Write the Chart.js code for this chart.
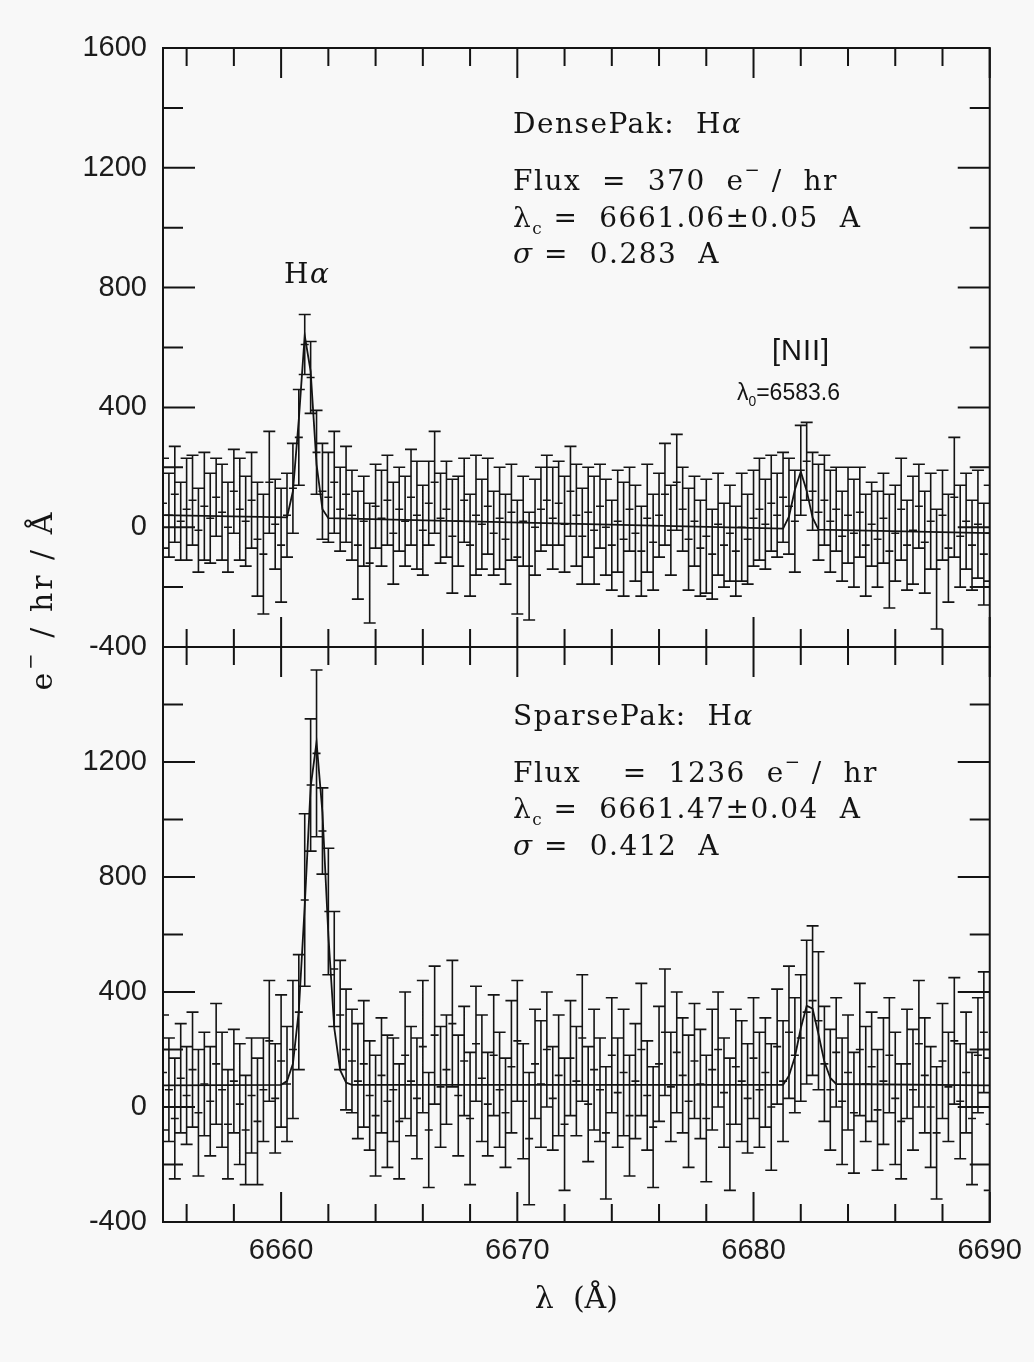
<!DOCTYPE html>
<html>
<head>
<meta charset="utf-8">
<title>DensePak / SparsePak H-alpha spectra</title>
<script src="https://cdn.jsdelivr.net/npm/chart.js@4.4.1/dist/chart.umd.min.js"></script>
<style>
  html, body { margin: 0; padding: 0; background: #f8f8f8; }
  #spec { display: block; }
</style>
</head>
<body>
<canvas id="spec" width="1034" height="1362"></canvas>
<script>
// wavelength grid (Angstrom), one entry per spectral pixel
const wavelength = [
  6655, 6655.25, 6655.5, 6655.75, 6656, 6656.25, 6656.5, 6656.75, 6657, 6657.25,
  6657.5, 6657.75, 6658, 6658.25, 6658.5, 6658.75, 6659, 6659.25, 6659.5, 6659.75,
  6660, 6660.25, 6660.5, 6660.75, 6661, 6661.25, 6661.5, 6661.75, 6662, 6662.25,
  6662.5, 6662.75, 6663, 6663.25, 6663.5, 6663.75, 6664, 6664.25, 6664.5, 6664.75,
  6665, 6665.25, 6665.5, 6665.75, 6666, 6666.25, 6666.5, 6666.75, 6667, 6667.25,
  6667.5, 6667.75, 6668, 6668.25, 6668.5, 6668.75, 6669, 6669.25, 6669.5, 6669.75,
  6670, 6670.25, 6670.5, 6670.75, 6671, 6671.25, 6671.5, 6671.75, 6672, 6672.25,
  6672.5, 6672.75, 6673, 6673.25, 6673.5, 6673.75, 6674, 6674.25, 6674.5, 6674.75,
  6675, 6675.25, 6675.5, 6675.75, 6676, 6676.25, 6676.5, 6676.75, 6677, 6677.25,
  6677.5, 6677.75, 6678, 6678.25, 6678.5, 6678.75, 6679, 6679.25, 6679.5, 6679.75,
  6680, 6680.25, 6680.5, 6680.75, 6681, 6681.25, 6681.5, 6681.75, 6682, 6682.25,
  6682.5, 6682.75, 6683, 6683.25, 6683.5, 6683.75, 6684, 6684.25, 6684.5, 6684.75,
  6685, 6685.25, 6685.5, 6685.75, 6686, 6686.25, 6686.5, 6686.75, 6687, 6687.25,
  6687.5, 6687.75, 6688, 6688.25, 6688.5, 6688.75, 6689, 6689.25, 6689.5, 6689.75,
  6690
];

// DensePak flux (e- / hr / A) and 1-sigma errors
const denseFlux = [
  80, 40, 110, 20, 60, 90, -10, 70, 30, 100,
  50, 0, 120, 60, 20, 90, -40, -90, 150, 10,
  -60, 40, 130, 300, 610, 500, 250, 120, 100, 150,
  60, 110, 40, -60, 20, -120, 70, 30, 90, -20,
  60, 20, 100, 40, -10, 80, 150, 30, 60, -30,
  20, 90, -60, 40, 10, 70, -20, 30, -40, 50,
  -100, 20, -130, 0, 60, 90, 30, 80, 10, 120,
  40, -30, 50, -10, 70, 0, -60, 20, -40, 60,
  -20, -80, 30, -50, 40, 110, -10, 150, 60, -40,
  20, -70, -30, -90, 10, -60, -20, -80, 0, -40,
  30, 60, 10, 80, 40, 100, 70, 20, 190, 220,
  120, 50, 90, 20, 60, -30, 40, -20, 50, -60,
  10, -40, 30, -80, -20, 60, -60, -10, 70, -50,
  20, -140, 40, -70, 100, -30, 20, -60, 10, -90,
  -20
];
const denseErr = [
  150, 140, 160, 130, 170, 150, 140, 180, 150, 130,
  160, 150, 140, 170, 150, 160, 190, 200, 170, 150,
  190, 140, 150, 160, 100, 120, 140, 160, 150, 170,
  140, 160, 150, 180, 150, 200, 140, 160, 150, 170,
  140, 150, 160, 180, 150, 140, 170, 150, 160, 190,
  150, 140, 170, 200, 150, 160, 140, 170, 150, 160,
  190, 150, 180, 160, 140, 150, 170, 140, 160, 150,
  170, 160, 150, 180, 140, 160, 150, 170, 190, 140,
  160, 150, 180, 160, 140, 170, 150, 160, 140, 170,
  150, 160, 190, 150, 170, 140, 160, 150, 180, 150,
  160, 170, 150, 160, 140, 150, 160, 170, 150, 130,
  130, 160, 150, 170, 140, 150, 160, 180, 150, 170,
  140, 160, 150, 190, 160, 170, 150, 180, 140, 170,
  160, 200, 150, 180, 200, 170, 160, 150, 180, 170,
  160
];

// SparsePak flux (e- / hr / A) and 1-sigma errors
const sparseFlux = [
  120, 60, -40, 100, 40, 130, -20, 80, 20, 150,
  60, -60, 90, 10, -80, 40, -50, 60, 230, 30,
  160, 80, 200, 330, 720, 1120, 1230, 960, 680, 480,
  320, 200, 160, 90, 150, 40, -30, 110, 20, 60,
  -50, 180, 90, 30, 210, -80, 250, 70, 130, 290,
  40, 160, -40, 220, 100, 10, 180, 60, -20, 140,
  230, 20, -110, 150, 80, 200, 30, 110, -60, 170,
  90, 240, 10, 130, 60, -90, 180, 50, 120, -30,
  90, 200, 40, -70, 150, 260, 70, 190, 110, 20,
  160, 80, -40, 130, 200, 50, -60, 140, 90, 30,
  170, 60, 120, 0, 210, 90, 260, 180, 240, 330,
  370, 300, 150, 60, 190, 20, 120, -20, 200, 80,
  140, -10, 90, 180, 30, -50, 150, 60, 220, 110,
  0, -90, 160, 70, 230, 20, 120, -40, 180, 260,
  -60
];
const sparseErr = [
  200, 180, 210, 190, 170, 200, 220, 180, 190, 210,
  200, 190, 180, 210, 190, 200, 220, 180, 210, 190,
  230, 200, 240, 200, 300, 230, 290, 150, 220, 200,
  190, 210, 180, 200, 220, 190, 210, 200, 230, 180,
  200, 220, 190, 210, 230, 200, 240, 210, 190, 220,
  210, 190, 230, 200, 220, 180, 210, 200, 190, 230,
  210, 200, 230, 190, 220, 200, 180, 210, 230, 200,
  190, 220, 200, 210, 180, 230, 200, 190, 220, 210,
  200, 230, 190, 210, 200, 220, 190, 210, 200, 230,
  200, 190, 220, 210, 200, 190, 230, 200, 210, 190,
  210, 200, 190, 220, 200, 210, 230, 200, 220, 250,
  260, 240, 200, 210, 190, 220, 200, 210, 230, 200,
  190, 210, 220, 200, 230, 200, 190, 210, 220, 200,
  210, 230, 200, 190, 220, 200, 210, 230, 200, 210,
  230
];

// fitted models (continuum + gaussian lines)
const denseFitX = [6655, 6660.25, 6660.5, 6660.75, 6661, 6661.25, 6661.5, 6661.75, 6662,
  6681.25, 6681.5, 6681.75, 6682, 6682.25, 6682.5, 6682.75, 6690];
const denseFitY = [40, 33, 120, 360, 640, 520, 210, 60, 30,
  -5, 35, 125, 185, 122, 32, -8, -20];
const sparseFitX = [6655, 6660, 6660.25, 6660.5, 6660.75, 6661, 6661.25, 6661.5, 6661.75, 6662,
  6662.25, 6662.5, 6662.75, 6663, 6681.25, 6681.5, 6681.75, 6682, 6682.25, 6682.5,
  6682.75, 6683, 6683.25, 6683.5, 6690];
const sparseFitY = [75, 77, 90, 150, 335, 700, 1113, 1269, 1025, 598,
  275, 128, 85, 77, 77, 109, 174, 274, 352, 342,
  253, 157, 101, 80, 75];

// tick labels
const xTickValues = [6660, 6670, 6680, 6690];
const denseTickValues = [-400, 0, 400, 800, 1200, 1600];
const sparseTickValues = [-400, 0, 400, 800, 1200];

const INK = '#141414';
const SERIF = '"DejaVu Serif", "Liberation Serif", serif';
const SANS = '"Liberation Sans", Arial, sans-serif';

function toPoints(xs, ys) {
  return xs.map((x, i) => ({ x: x, y: ys[i] }));
}

function drawRich(ctx, x, y, parts, size, family) {
  parts.forEach(p => {
    const t = typeof p === 'string' ? p : p[0];
    const o = typeof p === 'string' ? {} : p[1];
    const s = size * (o.scale || 1);
    ctx.font = (o.italic ? 'italic ' : '') + s + 'px ' + (o.family || family);
    ctx.fillText(t, x, y + (o.dy || 0) * size);
    x += ctx.measureText(t).width;
  });
}

function richWidth(ctx, parts, size, family) {
  let w = 0;
  parts.forEach(p => {
    const t = typeof p === 'string' ? p : p[0];
    const o = typeof p === 'string' ? {} : p[1];
    ctx.font = (o.italic ? 'italic ' : '') + size * (o.scale || 1) + 'px ' + family;
    w += ctx.measureText(t).width;
  });
  return w;
}

const spectrumPlugin = {
  id: 'spectrum',
  afterDatasetsDraw(chart) {
    const ctx = chart.ctx;
    const xs = chart.scales.x;
    chart.data.datasets.forEach(ds => {
      if (!ds.errorBars) return;
      const ys = chart.scales[ds.yAxisID];
      ctx.save();
      ctx.beginPath();
      ctx.rect(chart.chartArea.left, ys.top, chart.chartArea.right - chart.chartArea.left, ys.bottom - ys.top);
      ctx.clip();
      ctx.strokeStyle = INK;
      ctx.lineWidth = 1.6;
      ctx.beginPath();
      ds.data.forEach((pt, i) => {
        const px = xs.getPixelForValue(pt.x);
        const hi = ys.getPixelForValue(pt.y + ds.errorBars[i]);
        const lo = ys.getPixelForValue(pt.y - ds.errorBars[i]);
        const mid = ys.getPixelForValue(pt.y);
        ctx.moveTo(px, hi); ctx.lineTo(px, lo);
        ctx.moveTo(px - 6, hi); ctx.lineTo(px + 6, hi);
        ctx.moveTo(px - 6, lo); ctx.lineTo(px + 6, lo);
        ctx.moveTo(px - 4, mid); ctx.lineTo(px + 4, mid);
      });
      ctx.stroke();
      ctx.restore();
    });
  },
  afterDraw(chart) {
    const ctx = chart.ctx;
    const xs = chart.scales.x;
    const area = chart.chartArea;
    ctx.save();
    ctx.strokeStyle = INK;
    ctx.lineWidth = 2;
    ['yTop', 'yBot'].forEach(id => {
      const ys = chart.scales[id];
      const T = ys.top, B = ys.bottom, L = area.left, R = area.right;
      ctx.strokeRect(L, T, R - L, B - T);
      ctx.beginPath();
      for (let v = 6656; v <= 6690; v += 2) {
        const px = xs.getPixelForValue(v);
        const len = v % 10 === 0 ? 30 : 18;
        ctx.moveTo(px, T); ctx.lineTo(px, T + len);
        ctx.moveTo(px, B); ctx.lineTo(px, B - len);
      }
      for (let v = -400; v <= 1600; v += 200) {
        const py = ys.getPixelForValue(v);
        if (py < T - 1 || py > B + 1) continue;
        const len = v % 400 === 0 ? 32 : 20;
        ctx.moveTo(L, py); ctx.lineTo(L + len, py);
        ctx.moveTo(R, py); ctx.lineTo(R - len, py);
      }
      ctx.stroke();
    });

    ctx.fillStyle = INK;
    ctx.textBaseline = 'alphabetic';
    ctx.textAlign = 'left';
    ctx.letterSpacing = '1.5px';
    const sup = ['\u2212', { scale: 0.65, dy: -0.5 }];
    const sub = t => [t, { scale: 0.6, dy: 0.25 }];
    const fs = 28;
    drawRich(ctx, 513, 133, ['DensePak:  H', ['\u03b1', { italic: true }]], fs, SERIF);
    drawRich(ctx, 513, 190, ['Flux  =  370  e', sup, ' /  hr'], fs, SERIF);
    drawRich(ctx, 513, 227, ['\u03bb', sub('c'), ' =  6661.06\u00b10.05  A'], fs, SERIF);
    drawRich(ctx, 513, 263, [['\u03c3', { italic: true }], ' =  0.283  A'], fs, SERIF);

    drawRich(ctx, 513, 725, ['SparsePak:  H', ['\u03b1', { italic: true }]], fs, SERIF);
    drawRich(ctx, 513, 782, ['Flux    =  1236  e', sup, ' /  hr'], fs, SERIF);
    drawRich(ctx, 513, 818, ['\u03bb', sub('c'), ' =  6661.47\u00b10.04  A'], fs, SERIF);
    drawRich(ctx, 513, 855, [['\u03c3', { italic: true }], ' =  0.412  A'], fs, SERIF);

    drawRich(ctx, 284, 283, ['H', ['\u03b1', { italic: true }]], 28, SERIF);

    ctx.letterSpacing = '1px';
    drawRich(ctx, 772, 360, ['[NII]'], 29, SANS);
    ctx.letterSpacing = '0px';
    drawRich(ctx, 737, 400, ['\u03bb', sub('0'), '=6583.6'], 23, SANS);

    // y axis title spanning both panels
    ctx.save();
    ctx.translate(52, 600);
    ctx.rotate(-Math.PI / 2);
    ctx.letterSpacing = '3px';
    const yTitle = ['e', ['\u2212', { scale: 0.65, dy: -0.5 }], ' / hr / \u00c5'];
    const w = richWidth(ctx, yTitle, 30, SERIF);
    drawRich(ctx, -w / 2, 0, yTitle, 30, SERIF);
    ctx.restore();
    ctx.restore();
  }
};

const yTickStyle = {
  font: { family: SANS, size: 29 },
  color: '#1c1c1c',
  padding: 16,
  autoSkip: false,
  callback: v => String(v)
};

new Chart(document.getElementById('spec'), {
  type: 'scatter',
  data: {
    datasets: [
      {
        label: 'DensePak',
        data: toPoints(wavelength, denseFlux),
        errorBars: denseErr,
        yAxisID: 'yTop',
        pointRadius: 0,
        showLine: false
      },
      {
        label: 'DensePak fit',
        type: 'line',
        data: toPoints(denseFitX, denseFitY),
        yAxisID: 'yTop',
        borderColor: INK,
        borderWidth: 1.8,
        pointRadius: 0,
        tension: 0,
        fill: false
      },
      {
        label: 'SparsePak',
        data: toPoints(wavelength, sparseFlux),
        errorBars: sparseErr,
        yAxisID: 'yBot',
        pointRadius: 0,
        showLine: false
      },
      {
        label: 'SparsePak fit',
        type: 'line',
        data: toPoints(sparseFitX, sparseFitY),
        yAxisID: 'yBot',
        borderColor: INK,
        borderWidth: 1.8,
        pointRadius: 0,
        tension: 0,
        fill: false
      }
    ]
  },
  options: {
    responsive: false,
    animation: false,
    layout: { padding: { top: 48, right: 43, left: 0, bottom: 0 } },
    plugins: { legend: { display: false }, tooltip: { enabled: false } },
    scales: {
      x: {
        type: 'linear',
        min: 6655,
        max: 6690,
        afterBuildTicks: s => { s.ticks = xTickValues.map(v => ({ value: v })); },
        afterFit: s => { s.height = 140; },
        grid: { display: false, drawTicks: false },
        border: { display: false },
        ticks: {
          font: { family: SANS, size: 29 },
          color: '#1c1c1c',
          padding: 12,
          maxRotation: 0,
          autoSkip: false,
          callback: v => String(v)
        },
        title: {
          display: true,
          text: '\u03bb  (\u00c5)',
          font: { family: SERIF, size: 30 },
          color: INK,
          padding: { top: 0, bottom: 44 }
        }
      },
      yTop: {
        type: 'linear',
        position: 'left',
        stack: 'panels',
        stackWeight: 599,
        weight: 2,
        min: -400,
        max: 1600,
        afterBuildTicks: s => { s.ticks = denseTickValues.map(v => ({ value: v })); },
        afterFit: s => { s.width = 163; },
        grid: { display: false, drawTicks: false },
        border: { display: false },
        ticks: yTickStyle
      },
      yBot: {
        type: 'linear',
        position: 'left',
        stack: 'panels',
        stackWeight: 575,
        weight: 1,
        min: -400,
        max: 1600,
        afterBuildTicks: s => { s.ticks = sparseTickValues.map(v => ({ value: v })); },
        afterFit: s => { s.width = 163; },
        grid: { display: false, drawTicks: false },
        border: { display: false },
        ticks: yTickStyle
      }
    }
  },
  plugins: [spectrumPlugin]
});
</script>
</body>
</html>
